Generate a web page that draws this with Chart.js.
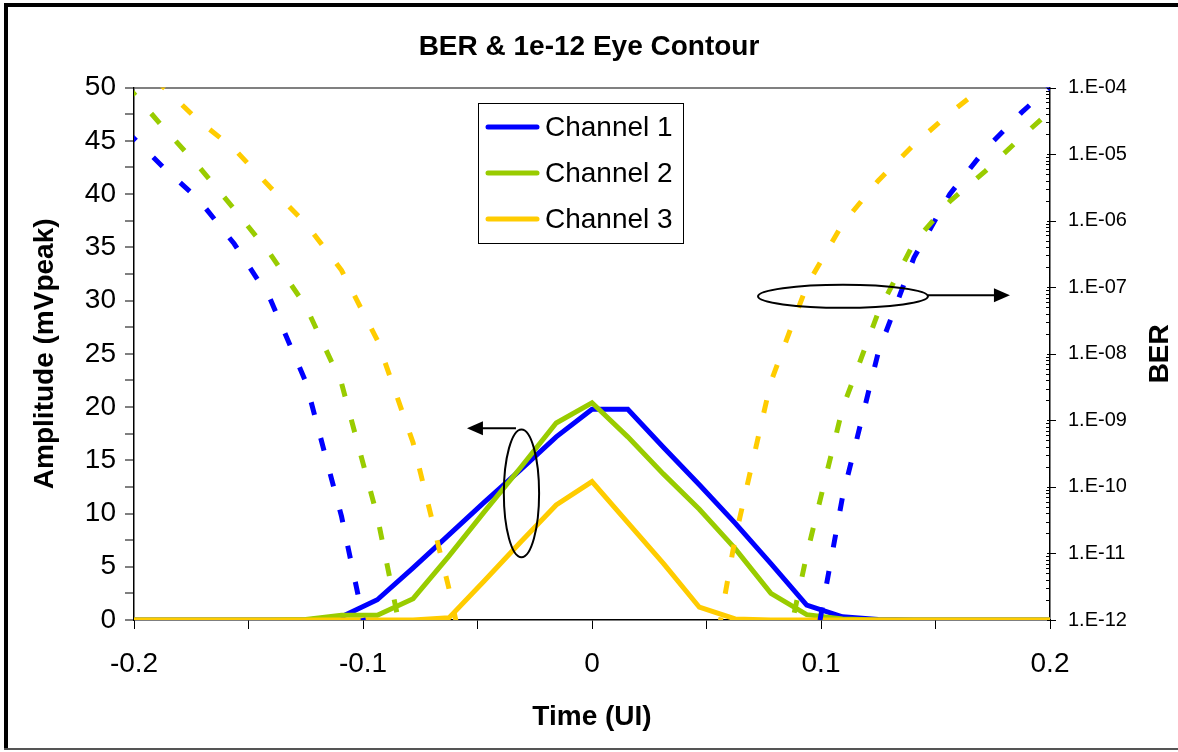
<!DOCTYPE html>
<html>
<head>
<meta charset="utf-8">
<title>BER &amp; 1e-12 Eye Contour</title>
<script src="https://cdn.jsdelivr.net/npm/chart.js@4.4.1/dist/chart.umd.min.js"></script>
<style>
  html, body { margin: 0; padding: 0; background: #fff; }
  #wrap { width: 1178px; height: 752px; }
</style>
</head>
<body>
<div id="wrap"><canvas id="eyeChart" width="1178" height="752"></canvas></div>
<script>
// sample instants (UI), one every 1/64 UI
const timeUI = [-0.203125, -0.1875, -0.171875, -0.15625, -0.140625, -0.125, -0.109375,
    -0.09375, -0.078125, -0.0625, -0.046875, -0.03125, -0.015625, 0,
    0.015625, 0.03125, 0.046875, 0.0625, 0.078125, 0.09375, 0.109375,
    0.125, 0.140625, 0.15625, 0.171875, 0.1875, 0.203125];

// 1e-12 eye opening (mVpeak), left axis
const ampCh1 = [0, 0, 0, 0, 0, 0, 0.3, 1.9, 4.9, 8.0, 11.1, 14.1, 17.2, 19.8,
    19.8, 16.2, 12.7, 9.1, 5.3, 1.4, 0.3, 0.05, 0, 0, 0, 0, 0];
const ampCh2 = [0, 0, 0, 0, 0, 0.05, 0.45, 0.45, 2.0, 6.0, 10.2, 14.3, 18.5, 20.4,
    17.2, 13.7, 10.4, 6.7, 2.5, 0.5, 0.1, 0, 0, 0, 0, 0, 0];
const ampCh3 = [0, 0, 0, 0, 0, 0, 0, 0, 0, 0.2, 3.7, 7.3, 10.8, 13.0,
    9.15, 5.3, 1.2, 0.1, 0, 0, 0, 0, 0, 0, 0, 0, 0];

// bit error rate at zero amplitude, right axis (null = far below 1e-12)
const berCh1 = [2.2e-5, 6.5e-6, 2.1e-6, 4.5e-7, 6.8e-8, 3.8e-9, 3.6e-11, 1e-13,
    null, null, null, null, null, null, null, null, null, null, null,
    8e-14, 7e-11, 1.05e-8, 2.8e-7, 2.5e-6, 1.2e-5, 4.2e-5, 1.3e-4];
const berCh2 = [1.07e-4, 2.6e-5, 6.6e-6, 1.5e-6, 3.2e-7, 5.2e-8, 3.6e-9, 3.6e-11, 8e-14,
    null, null, null, null, null, null, null, null, null,
    3e-14, 9.5e-12, 1.5e-9, 4.2e-8, 4.7e-7, 1.95e-6, 5.6e-6, 1.8e-5, 5.5e-5];
const berCh3 = [3.0e-4, 1.05e-4, 3.2e-5, 1.2e-5, 3.2e-6, 9.1e-7, 1.8e-7, 1.6e-8, 4.6e-10, 3.0e-12, 1e-14,
    null, null, null, null, null,
    1.6e-14, 1.7e-11, 3.8e-9, 1.05e-7, 8.9e-7, 4.0e-6, 1.4e-5, 4.1e-5, 1.1e-4, 3.2e-4, 8e-4];

const channelNames = ['Channel 1', 'Channel 2', 'Channel 3'];
const channelColors = ['#0000ff', '#99cc00', '#ffcc00'];
const berTickValues = [1e-12, 1e-11, 1e-10, 1e-9, 1e-8, 1e-7, 1e-6, 1e-5, 1e-4];

// callout shapes, in axis units (x: UI, y: mVpeak)
const ampNote = { x: -0.0308, y: 11.9, rx: 0.0077, ry: 6.0, arrowFrom: -0.0332, arrowTo: -0.0546, arrowY: 18.0 };
const berNote = { x: 0.1096, y: 30.4, rx: 0.0371, ry: 1.08, arrowFrom: 0.1467, arrowTo: 0.1825, arrowY: 30.5 };

const FONT = "'Liberation Sans', Arial, sans-serif";
Chart.defaults.font.family = FONT;
Chart.defaults.color = '#000';

function toPoints(ys) {
    return timeUI.map((t, i) => ({ x: t, y: ys[i] }));
}

const ampSeries = [ampCh1, ampCh2, ampCh3];
const berSeries = [berCh1, berCh2, berCh3];

// dashed BER curves first so they sit on top of the solid ones
const datasets = [];
[2, 1, 0].forEach(i => datasets.push({
    label: channelNames[i] + ' BER',
    data: toPoints(berSeries[i]),
    yAxisID: 'y1',
    borderColor: channelColors[i],
    borderWidth: 5,
    borderDash: [13, 24],
    pointRadius: 0,
    tension: 0
}));
[2, 1, 0].forEach(i => datasets.push({
    label: channelNames[i],
    data: toPoints(ampSeries[i]),
    yAxisID: 'y',
    borderColor: channelColors[i],
    borderWidth: 5,
    pointRadius: 0,
    tension: 0
}));

function drawArrow(ctx, x0, x1, y) {
    const dir = Math.sign(x1 - x0);
    ctx.beginPath();
    ctx.moveTo(x0, y);
    ctx.lineTo(x1 - dir * 14, y);
    ctx.stroke();
    ctx.beginPath();
    ctx.moveTo(x1, y);
    ctx.lineTo(x1 - dir * 16, y - 7);
    ctx.lineTo(x1 - dir * 16, y + 7);
    ctx.closePath();
    ctx.fill();
}

const frameAndNotes = {
    id: 'frameAndNotes',
    beforeDraw(chart) {
        const ctx = chart.ctx;
        ctx.save();
        ctx.fillStyle = '#fff';
        ctx.fillRect(0, 0, chart.width, chart.height);
        ctx.restore();
    },
    afterDatasetsDraw(chart) {
        const { ctx, scales: { x, y } } = chart;
        ctx.save();
        ctx.strokeStyle = '#000';
        ctx.fillStyle = '#000';
        ctx.lineWidth = 2;
        [ampNote, berNote].forEach(n => {
            const cx = x.getPixelForValue(n.x);
            const cy = y.getPixelForValue(n.y);
            const rx = Math.abs(x.getPixelForValue(n.x + n.rx) - cx);
            const ry = Math.abs(y.getPixelForValue(n.y + n.ry) - cy);
            ctx.beginPath();
            ctx.ellipse(cx, cy, rx, ry, 0, 0, Math.PI * 2);
            ctx.stroke();
            drawArrow(ctx, x.getPixelForValue(n.arrowFrom), x.getPixelForValue(n.arrowTo), y.getPixelForValue(n.arrowY));
        });
        ctx.restore();
    },
    afterDraw(chart) {
        const { ctx, chartArea } = chart;
        const s = chart.scales.y1;
        const xr = chartArea.right;
        ctx.save();

        // BER axis tick marks: decades cross the axis, minors point inward
        ctx.strokeStyle = '#000';
        ctx.lineWidth = 1;
        berTickValues.forEach((v, i) => {
            const py = Math.round(s.getPixelForValue(v)) + 0.5;
            ctx.beginPath();
            ctx.moveTo(xr - 3, py);
            ctx.lineTo(xr + 6, py);
            ctx.stroke();
            if (i < berTickValues.length - 1) {
                for (let m = 2; m <= 9; m++) {
                    const pm = Math.round(s.getPixelForValue(v * m)) + 0.5;
                    ctx.beginPath();
                    ctx.moveTo(xr - 4, pm);
                    ctx.lineTo(xr, pm);
                    ctx.stroke();
                }
            }
        });

        // right axis title, reading bottom to top
        ctx.font = 'bold 28px ' + FONT;
        ctx.textAlign = 'center';
        ctx.textBaseline = 'middle';
        ctx.fillStyle = '#000';
        ctx.translate(1160, (chartArea.top + chartArea.bottom) / 2);
        ctx.rotate(-Math.PI / 2);
        ctx.fillText('BER', 0, 0);
        ctx.setTransform(1, 0, 0, 1, 0, 0);

        // legend box for the solid curves
        const lx = 478, ly = 103, lw = 205, lh = 140;
        ctx.fillStyle = '#fff';
        ctx.fillRect(lx, ly, lw, lh);
        ctx.strokeStyle = '#000';
        ctx.lineWidth = 1;
        ctx.strokeRect(lx + 0.5, ly + 0.5, lw, lh);
        ctx.font = '28px ' + FONT;
        ctx.textAlign = 'left';
        channelNames.forEach((name, i) => {
            const ry = ly + 24 + i * 46;
            ctx.strokeStyle = channelColors[i];
            ctx.lineWidth = 5;
            ctx.lineCap = 'round';
            ctx.beginPath();
            ctx.moveTo(lx + 10, ry);
            ctx.lineTo(lx + 59, ry);
            ctx.stroke();
            ctx.fillStyle = '#000';
            ctx.fillText(name, lx + 67, ry + 1);
        });

        // outer chart frame
        ctx.fillStyle = '#000';
        ctx.fillRect(4, 3, chart.width - 4, 4);
        ctx.fillRect(4, 3, 4, 746);
        ctx.fillStyle = '#555';
        ctx.fillRect(4, 748, chart.width - 4, 2);
        ctx.restore();
    }
};

new Chart(document.getElementById('eyeChart'), {
    type: 'line',
    data: { datasets: datasets },
    options: {
        responsive: false,
        animation: false,
        events: [],
        layout: { padding: 0 },
        plugins: {
            legend: { display: false },
            tooltip: { enabled: false },
            title: {
                display: true,
                text: 'BER & 1e-12 Eye Contour',
                font: { size: 28, weight: 'bold' },
                color: '#000',
                padding: { top: 30, bottom: 24 }
            }
        },
        scales: {
            x: {
                type: 'linear',
                min: -0.2,
                max: 0.2,
                afterFit(scale) { scale.height = 132; },
                ticks: {
                    stepSize: 0.05,
                    autoSkip: false,
                    maxRotation: 0,
                    padding: 18,
                    font: { size: 28 },
                    color: '#000',
                    callback: (v) => {
                        const r = Math.round(v * 100);
                        return r % 10 === 0 ? String(r / 100) : '';
                    }
                },
                grid: { drawOnChartArea: false, tickLength: 9, tickColor: '#000' },
                border: { color: '#000', width: 1.5 },
                title: {
                    display: true,
                    text: 'Time (UI)',
                    font: { size: 28, weight: 'bold' },
                    padding: { top: 0, bottom: 18 }
                }
            },
            y: {
                type: 'linear',
                position: 'left',
                min: 0,
                max: 50,
                afterFit(scale) { scale.width = 134; },
                ticks: {
                    stepSize: 2.5,
                    autoSkip: false,
                    padding: 9,
                    font: { size: 28 },
                    color: '#000',
                    callback: (v) => (v % 5 === 0 ? v : '')
                },
                grid: {
                    color: (c) => (c.tick && c.tick.value === 50 ? '#808080' : 'rgba(0,0,0,0)'),
                    lineWidth: 2,
                    tickLength: 9,
                    tickColor: '#000',
                    tickWidth: 1
                },
                border: { color: '#000', width: 1.5 },
                title: {
                    display: true,
                    text: 'Amplitude (mVpeak)',
                    font: { size: 28, weight: 'bold' },
                    padding: { top: 28, bottom: 0 }
                }
            },
            y1: {
                type: 'logarithmic',
                position: 'right',
                min: 1e-12,
                max: 1e-4,
                afterFit(scale) { scale.width = 128; },
                afterBuildTicks(scale) {
                    scale.ticks = berTickValues.map(v => ({ value: v, major: true }));
                },
                ticks: {
                    autoSkip: false,
                    padding: 18,
                    font: { size: 20 },
                    color: '#000',
                    callback: (v) => '1.E-' + String(-Math.round(Math.log10(v))).padStart(2, '0')
                },
                grid: { drawOnChartArea: false, drawTicks: false },
                border: { color: '#000', width: 1.5 }
            }
        }
    },
    plugins: [frameAndNotes]
});
</script>
</body>
</html>
